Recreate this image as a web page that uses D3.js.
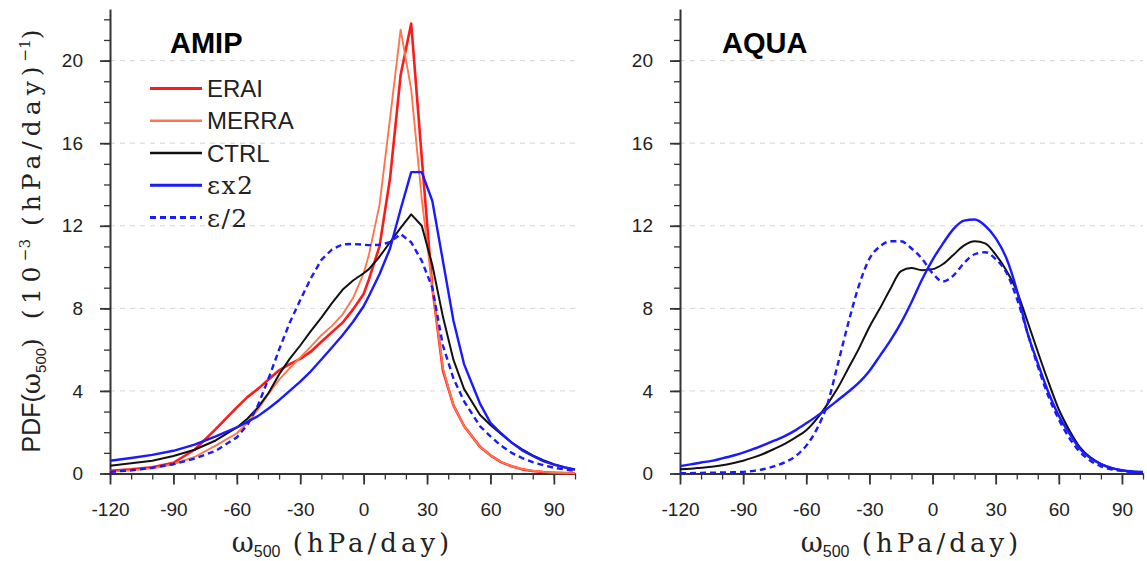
<!DOCTYPE html>
<html><head><meta charset="utf-8">
<script src="https://cdn.jsdelivr.net/npm/d3@7"></script>
<style>body{margin:0;background:#fff}</style>
</head><body>
<svg id="c" width="1147" height="561"></svg>
<script>
// ---------- data ----------
const amipOmega = [-120,-110,-100,-90,-80,-70,-60,-55,-50,-45,-40,-35,-30,-25,-20,-15,-10,-5,0,2.5,7.5,12.5,17.5,22.5,27.5,32.5,37.5,42.5,47.5,55,60,65,70,75,80,85,90,95,100];
const amipERAI  = [0.13,0.2,0.3,0.52,1.15,2.15,3.2,3.7,4.1,4.55,5.0,5.3,5.55,5.9,6.38,6.85,7.3,7.95,8.7,9.4,11.0,14.3,19.3,21.8,15.3,9.0,5.0,3.3,2.3,1.3,0.88,0.55,0.35,0.2,0.12,0.07,0.04,0.02,0.01];
const amipMERRA = [0.08,0.15,0.25,0.45,0.8,1.35,1.95,2.45,3.1,3.85,4.55,5.1,5.62,6.15,6.7,7.15,7.7,8.5,9.7,10.6,13.0,17.2,21.5,18.6,13.3,9.0,5.1,3.3,2.3,1.3,0.88,0.56,0.36,0.21,0.13,0.08,0.05,0.03,0.02];
const amipCTRL  = [0.38,0.5,0.62,0.85,1.15,1.6,2.23,2.65,3.2,3.9,4.8,5.55,6.2,6.9,7.55,8.25,8.9,9.35,9.7,9.9,10.5,11.2,11.9,12.55,12.0,10.1,7.6,5.5,4.1,2.85,2.35,1.92,1.5,1.17,0.88,0.65,0.45,0.3,0.18];
const amipEx2   = [0.62,0.75,0.9,1.1,1.4,1.8,2.23,2.5,2.78,3.15,3.55,4.0,4.45,4.95,5.52,6.1,6.7,7.35,8.1,8.6,9.65,10.9,12.8,14.6,14.6,13.2,10.3,7.4,5.3,3.4,2.45,1.95,1.5,1.12,0.85,0.6,0.43,0.3,0.2];
const amipEhalf = [0.08,0.15,0.28,0.45,0.72,1.1,1.75,2.35,3.3,4.6,6.0,7.3,8.4,9.45,10.35,10.85,11.1,11.12,11.08,11.06,11.08,11.2,11.6,11.2,10.3,9.0,6.2,4.6,3.5,2.3,1.8,1.35,1.0,0.75,0.55,0.4,0.28,0.2,0.13];

const aquaOmega = [-120,-115,-110,-105,-100,-95,-90,-85,-80,-75,-70,-65,-60,-55,-50,-45,-40,-35,-30,-25,-20,-15,-10,-5,0,5,10,15,20,25,30,35,40,45,50,55,60,65,70,75,80,85,90,95,100];
const aquaCTRL  = [0.2,0.23,0.28,0.33,0.4,0.5,0.62,0.78,0.97,1.2,1.45,1.75,2.1,2.65,3.35,4.15,5.1,6.05,7.1,8.0,8.95,9.8,9.95,9.85,9.9,10.15,10.6,11.05,11.25,11.15,10.6,9.85,8.85,7.4,5.9,4.45,3.1,2.1,1.28,0.78,0.47,0.27,0.16,0.08,0.04];
const aquaEx2   = [0.36,0.44,0.53,0.61,0.73,0.86,1.01,1.19,1.39,1.6,1.82,2.1,2.43,2.78,3.15,3.55,3.96,4.4,4.97,5.7,6.45,7.3,8.3,9.4,10.35,11.15,11.85,12.25,12.3,12.0,11.4,10.45,8.9,6.85,5.35,3.95,2.8,1.95,1.2,0.75,0.45,0.27,0.16,0.1,0.08];
const aquaEhalf = [0.02,0.02,0.03,0.04,0.05,0.06,0.08,0.13,0.22,0.36,0.55,0.85,1.35,2.15,3.35,5.3,7.3,9.1,10.4,11.0,11.25,11.25,10.9,10.4,9.7,9.3,9.6,10.2,10.62,10.72,10.38,9.75,8.5,6.85,5.2,3.75,2.62,1.72,1.05,0.62,0.35,0.2,0.12,0.07,0.04];

const xTickLabels = [-120,-90,-60,-30,0,30,60,90];
const yTickLabels = [0,4,8,12,16,20];
const legendLabels = ["ERAI","MERRA","CTRL","\u03b5x2","\u03b5/2"];
const panelNames = ["AMIP","AQUA"];

// ---------- styles ----------
const SANS = "'Liberation Sans', Arial, Helvetica, sans-serif";
const SERIF = "'DejaVu Serif', 'Liberation Serif', serif";
const styles = {
  ERAI:  {stroke:"#ff1a1a", width:2.6, dash:null},
  MERRA: {stroke:"#ff7550", width:1.9, dash:null},
  CTRL:  {stroke:"#111111", width:2.0, dash:null},
  ex2:   {stroke:"#1a1aff", width:2.4, dash:null},
  ehalf: {stroke:"#1a1aff", width:2.4, dash:"6,4"}
};

const svg = d3.select("#c");
svg.append("rect").attr("width",1147).attr("height",561).attr("fill","#fff");

const xMinor = d3.range(-120, 101, 10);
const yMinor = d3.range(0, 23, 1);

function drawPanel(left, right, name, series, curve, showLegend) {
  const g = svg.append("g");
  const x = d3.scaleLinear().domain([-120,100]).range([left,right]);
  const y = d3.scaleLinear().domain([0,22.5]).range([473.5,9]);

  // grid
  g.selectAll("line.grid").data(yTickLabels.filter(d=>d>0)).join("line")
    .attr("x1", x(-120)).attr("x2", x(100))
    .attr("y1", d=>y(d)).attr("y2", d=>y(d))
    .attr("stroke","#d6d6d6").attr("stroke-width",1).attr("stroke-dasharray","5,5");

  // minor ticks
  g.append("g").attr("transform",`translate(0,${y(0)})`)
    .call(d3.axisBottom(x).tickValues(xMinor).tickSize(6).tickSizeOuter(0).tickFormat(""))
    .call(s=>{s.select(".domain").remove(); s.selectAll("line").attr("stroke","#333").attr("stroke-width",1.3);});
  g.append("g").attr("transform",`translate(${x(-120)},0)`)
    .call(d3.axisLeft(y).tickValues(yMinor).tickSize(6).tickSizeOuter(0).tickFormat(""))
    .call(s=>{s.select(".domain").remove(); s.selectAll("line").attr("stroke","#333").attr("stroke-width",1.3);});

  // major axes
  g.append("g").attr("transform",`translate(0,${y(0)})`)
    .call(d3.axisBottom(x).tickValues(xTickLabels).tickSize(11).tickSizeOuter(0).tickPadding(18).tickFormat(d3.format("d")))
    .call(s=>{
      s.select(".domain").attr("stroke","#333").attr("stroke-width",2);
      s.selectAll("line").attr("stroke","#333").attr("stroke-width",1.8);
      s.selectAll("text").attr("font-family",SANS).attr("font-size",19).attr("fill","#222").text(d=>d<0?"-"+Math.abs(d):d);
    });
  g.append("g").attr("transform",`translate(${x(-120)},0)`)
    .call(d3.axisLeft(y).tickValues(yTickLabels).tickSize(10).tickSizeOuter(0).tickPadding(17))
    .call(s=>{
      s.select(".domain").attr("stroke","#333").attr("stroke-width",2);
      s.selectAll("line").attr("stroke","#333").attr("stroke-width",1.8);
      s.selectAll("text").attr("font-family",SANS).attr("font-size",19).attr("fill","#222");
    });

  // curves
  series.forEach(s=>{
    const st = styles[s.key];
    const line = d3.line().x((d,i)=>x(s.xs[i])).y(d=>y(d)).curve(curve);
    g.append("path").datum(s.ys).attr("d",line).attr("fill","none")
      .attr("stroke",st.stroke).attr("stroke-width",st.width)
      .attr("stroke-dasharray",st.dash).attr("stroke-linejoin","round");
  });

  // panel name
  g.append("text").attr("x", left + (name==="AMIP"?60:42)).attr("y",53)
    .attr("font-family",SANS).attr("font-weight","bold").attr("font-size",29).attr("fill","#000").text(name);

  // x title
  const cx = (left+right)/2;
  const t = g.append("text").attr("y",552).attr("x",cx).attr("text-anchor","middle").attr("fill","#222");
  t.append("tspan").attr("font-family",SERIF).attr("font-size",27).text("\u03c9");
  t.append("tspan").attr("font-family",SANS).attr("font-size",16).attr("dy",5).text("500");
  t.append("tspan").attr("font-family",SERIF).attr("font-size",26).attr("dy",-5).attr("letter-spacing",4).text("\u00a0(hPa/day)");

  if (showLegend) {
    const keys = ["ERAI","MERRA","CTRL","ex2","ehalf"];
    const rowY = d3.scaleLinear().domain([0,4]).range([88.5,217.5]);
    const lg = g.append("g");
    legendLabels.forEach((lab,i)=>{
      const st = styles[keys[i]];
      lg.append("line").attr("x1",150).attr("x2",202).attr("y1",rowY(i)).attr("y2",rowY(i))
        .attr("stroke",st.stroke).attr("stroke-width",st.width+0.4).attr("stroke-dasharray",st.dash);
      const isGreek = lab.startsWith("\u03b5");
      lg.append("text").attr("x",207).attr("y",rowY(i)).attr("dy","0.36em")
        .attr("font-family",isGreek?SERIF:SANS).attr("font-size",isGreek?25:24)
        .attr("letter-spacing",isGreek?1.5:0).attr("fill","#222").text(lab);
    });
  }
}

drawPanel(110, 575, panelNames[0], [
  {key:"ERAI", xs:amipOmega, ys:amipERAI},
  {key:"MERRA", xs:amipOmega, ys:amipMERRA},
  {key:"CTRL", xs:amipOmega, ys:amipCTRL},
  {key:"ex2", xs:amipOmega, ys:amipEx2},
  {key:"ehalf", xs:amipOmega, ys:amipEhalf}
], d3.curveLinear, true);

drawPanel(680, 1143, panelNames[1], [
  {key:"CTRL", xs:aquaOmega, ys:aquaCTRL},
  {key:"ex2", xs:aquaOmega, ys:aquaEx2},
  {key:"ehalf", xs:aquaOmega, ys:aquaEhalf}
], d3.curveMonotoneX, false);

// y-axis title (left panel)
const yt = svg.append("text").attr("transform","translate(40,241) rotate(-90)")
  .attr("text-anchor","middle").attr("fill","#222");
yt.append("tspan").attr("font-family",SANS).attr("font-size",25).text("PDF(");
yt.append("tspan").attr("font-family",SERIF).attr("font-size",26).text("\u03c9");
yt.append("tspan").attr("font-family",SANS).attr("font-size",15).attr("dy",6).text("500");
yt.append("tspan").attr("font-family",SERIF).attr("font-size",25).attr("dy",-6).attr("letter-spacing",5.5).text(")\u00a0(10");
yt.append("tspan").attr("font-family",SERIF).attr("font-size",15).attr("dy",-10).text("\u22123");
yt.append("tspan").attr("font-family",SERIF).attr("font-size",25).attr("dy",10).attr("letter-spacing",5).text("\u00a0(hPa/day)");
yt.append("tspan").attr("font-family",SERIF).attr("font-size",15).attr("dy",-10).text("\u22121");
yt.append("tspan").attr("font-family",SERIF).attr("font-size",25).attr("dy",10).text(")");
</script>
</body></html>
